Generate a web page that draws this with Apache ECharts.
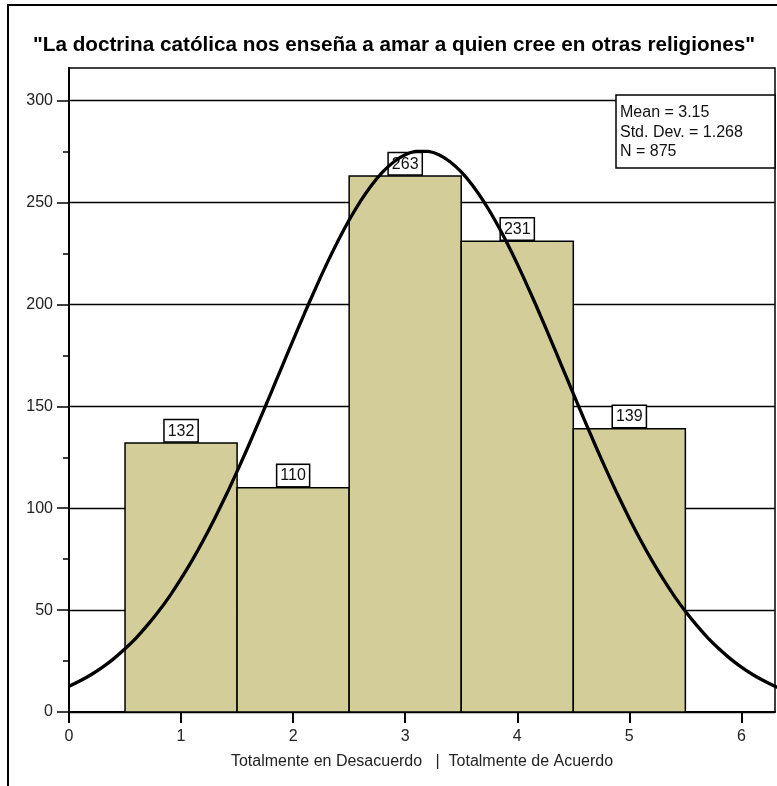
<!DOCTYPE html>
<html>
<head>
<meta charset="utf-8">
<script src="https://cdn.jsdelivr.net/npm/echarts@6/dist/echarts.min.js"></script>
<style>html,body{margin:0;padding:0;background:#fff;}#c{width:777px;height:786px;}</style>
</head>
<body>
<div id="c"></div>
<script>
var titleText = '"La doctrina católica nos enseña a amar a quien cree en otras religiones"';
var xAxisName = 'Totalmente en Desacuerdo   |  Totalmente de Acuerdo';
var categories = [1, 2, 3, 4, 5];
var counts = [132, 110, 263, 231, 139];
var statsLines = ['Mean = 3.15', 'Std. Dev. = 1.268', 'N = 875'];
var xTicks = [0, 1, 2, 3, 4, 5, 6];
var yTicks = [0, 50, 100, 150, 200, 250, 300];
var curveX = [0, 0.1, 0.2, 0.3, 0.4, 0.5, 0.6, 0.7, 0.8, 0.9,
  1.0, 1.1, 1.2, 1.3, 1.4, 1.5, 1.6, 1.7, 1.8, 1.9,
  2.0, 2.1, 2.2, 2.3, 2.4, 2.5, 2.6, 2.7, 2.8, 2.9,
  3.0, 3.1, 3.2, 3.3, 3.4, 3.5, 3.6, 3.7, 3.8, 3.9,
  4.0, 4.1, 4.2, 4.3, 4.4, 4.5, 4.6, 4.7, 4.8, 4.9,
  5.0, 5.1, 5.2, 5.3, 5.4, 5.5, 5.6, 5.7, 5.8, 5.9,
  6.0, 6.1, 6.2, 6.3, 6.4];
var curveY = [12.6, 15.3, 18.4, 22.0, 26.2, 31.0, 36.4, 42.6, 49.4, 57.0,
  65.4, 74.5, 84.4, 95.0, 106.2, 118.1, 130.4, 143.2, 156.2, 169.4,
  182.5, 195.4, 207.9, 219.9, 231.1, 241.4, 250.6, 258.5, 265.0, 270.0,
  273.4, 275.1, 275.1, 273.4, 270.0, 265.0, 258.5, 250.6, 241.4, 231.1,
  219.9, 207.9, 195.4, 182.5, 169.4, 156.2, 143.2, 130.4, 118.1, 106.2,
  95.0, 84.4, 74.5, 65.4, 57.0, 49.4, 42.6, 36.4, 31.0, 26.2,
  22.0, 18.4, 15.3, 12.6, 10.3];

var FONT = '"Liberation Sans", Arial, sans-serif';
var chart = echarts.init(document.getElementById('c'), null, {renderer: 'canvas'});

var barData = categories.map(function (c, i) { return [c, counts[i]]; });
var curveData = curveX.map(function (x, i) { return [x, curveY[i]]; });

var option = {
  backgroundColor: '#fff',
  animation: false,
  textStyle: {fontFamily: FONT},
  grid: {left: 69, right: 2, top: 68, bottom: 74, show: true, borderColor: '#000', borderWidth: 1.5, backgroundColor: 'transparent'},
  xAxis: {
    type: 'value', min: 0, max: 6.3, interval: 1,
    name: xAxisName, nameLocation: 'middle', nameGap: 42,
    nameTextStyle: {fontSize: 16, color: '#222', fontFamily: FONT},
    axisLine: {show: true, lineStyle: {color: '#000', width: 2}},
    axisTick: {show: true, length: 11, customValues: xTicks, lineStyle: {color: '#000', width: 2}},
    axisLabel: {fontSize: 16, color: '#222', margin: 17, fontFamily: FONT, customValues: xTicks},
    splitLine: {show: false}
  },
  yAxis: {
    type: 'value', min: 0, max: 316, interval: 50,
    axisLine: {show: true, lineStyle: {color: '#000', width: 2}},
    axisTick: {show: true, length: 12, customValues: yTicks, lineStyle: {color: '#000', width: 1.5}},
    minorTick: {show: true, splitNumber: 2, length: 6, lineStyle: {color: '#000', width: 1.5}},
    axisLabel: {fontSize: 16, color: '#222', margin: 16, fontFamily: FONT, customValues: yTicks},
    splitLine: {show: true, lineStyle: {color: '#000', width: 1.3}}
  },
  series: [
    {
      type: 'custom',
      z: 2,
      data: barData,
      renderItem: function (params, api) {
        var x = api.value(0), y = api.value(1);
        var p1 = api.coord([x - 0.5, y]);
        var p2 = api.coord([x + 0.5, 0]);
        return {
          type: 'rect',
          shape: {x: p1[0], y: p1[1], width: p2[0] - p1[0], height: p2[1] - p1[1]},
          style: {fill: '#d3ce99', stroke: '#000', lineWidth: 1.5},
          textContent: {
            style: {
              text: String(y), fontSize: 16, fill: '#111', fontFamily: FONT,
              backgroundColor: '#fff', borderColor: '#000', borderWidth: 1.5,
              padding: [3, 3, 2, 3]
            }
          },
          textConfig: {position: 'top', distance: 1}
        };
      }
    },
    {
      type: 'line',
      z: 5,
      data: curveData,
      smooth: 0.3,
      symbol: 'none',
      clip: true,
      lineStyle: {color: '#000', width: 3.3}
    }
  ],
  graphic: [
    {type: 'line', shape: {x1: 8, y1: 4, x2: 8, y2: 786}, style: {stroke: '#000', lineWidth: 2}, z: 10},
    {type: 'line', shape: {x1: 7, y1: 5, x2: 777, y2: 5}, style: {stroke: '#000', lineWidth: 2}, z: 10},
    {type: 'text', x: 394, y: 35, style: {text: titleText, textAlign: 'center', fontSize: 20.7, fontWeight: 'bold', fill: '#000', fontFamily: FONT}, z: 10},
    {type: 'rect', shape: {x: 616, y: 95, width: 159, height: 73}, style: {fill: '#fff', stroke: '#000', lineWidth: 1.5}, z: 20},
    {type: 'text', x: 620, y: 103, style: {text: statsLines.join('\n'), fontSize: 16, lineHeight: 19.5, fill: '#111', fontFamily: FONT}, z: 21}
  ]
};
chart.setOption(option);
</script>
</body>
</html>
